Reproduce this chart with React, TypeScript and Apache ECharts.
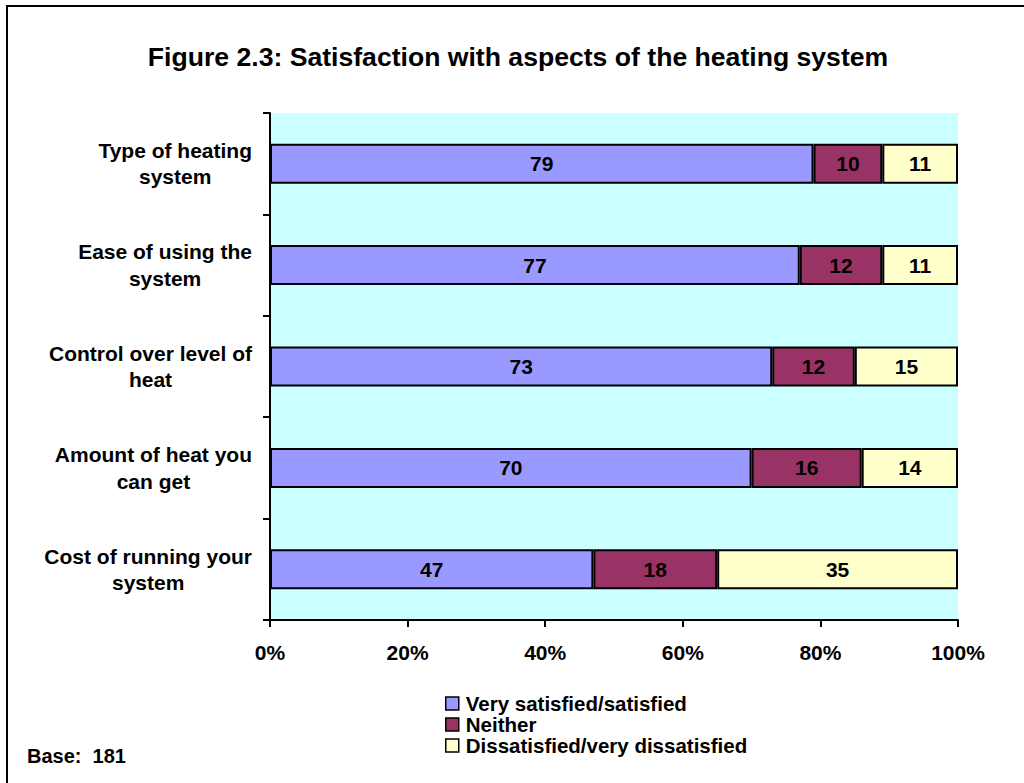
import React, { useEffect, useRef } from "react";
import * as echarts from "echarts";

const categories: string[] = [
  "Type of heating\nsystem",
  "Ease of using the\nsystem",
  "Control over level of\nheat",
  "Amount of heat you\ncan get",
  "Cost of running your\nsystem",
];
const seriesNames: string[] = [
  "Very satisfied/satisfied",
  "Neither",
  "Dissatisfied/very dissatisfied",
];
const verySatisfied: number[] = [79, 77, 73, 70, 47];
const neither: number[] = [10, 12, 12, 16, 18];
const dissatisfied: number[] = [11, 11, 15, 14, 35];
const colors: string[] = ["#9999FF", "#993366", "#FFFFCC"];
const titleText = "Figure 2.3: Satisfaction with aspects of the heating system";
const baseText = "Base:  181";

const FONT = "'Liberation Sans', Arial, Helvetica, sans-serif";

export default function App() {
  const ref = useRef<HTMLDivElement>(null);
  useEffect(() => {
    if (!ref.current) return;
    const chart = echarts.init(ref.current, undefined, { renderer: "svg" });
    const values = [verySatisfied, neither, dissatisfied];
    chart.setOption({
      animation: false,
      backgroundColor: "#ffffff",
      title: {
        text: titleText,
        left: 518,
        textAlign: "center",
        top: 43,
        padding: 0,
        textStyle: { fontFamily: FONT, fontWeight: "bold", fontSize: 26.6, color: "#000" },
      },
      legend: {
        orient: "vertical",
        left: 445,
        top: 693,
        padding: 0,
        itemGap: 0,
        itemWidth: 13,
        itemHeight: 13,
        icon: "rect",
        data: seriesNames,
        itemStyle: { borderColor: "#000", borderWidth: 1.5 },
        textStyle: {
          fontFamily: FONT,
          fontWeight: "bold",
          fontSize: 20.5,
          color: "#000",
          lineHeight: 20,
          padding: [0, 0, 0, 2],
        },
      },
      graphic: [
        {
          type: "rect",
          shape: { x: 7, y: 6, width: 1200, height: 1000 },
          style: { fill: "none", stroke: "#000", lineWidth: 2 },
          silent: true,
        },
        {
          type: "text",
          left: 27,
          top: 746,
          style: {
            text: baseText,
            fontFamily: FONT,
            fontWeight: "bold",
            fontSize: 20,
            fill: "#000",
          },
        },
      ],
      grid: {
        left: 270,
        right: 66,
        top: 113,
        bottom: 163,
        show: true,
        backgroundColor: "#CCFFFF",
        borderWidth: 0,
        containLabel: false,
      },
      xAxis: {
        type: "value",
        min: 0,
        max: 100,
        interval: 20,
        splitLine: { show: false },
        axisLine: { show: true, lineStyle: { color: "#000", width: 2 } },
        axisTick: { show: true, length: 7, lineStyle: { color: "#000", width: 2 } },
        axisLabel: {
          formatter: "{value}%",
          margin: 22,
          fontFamily: FONT,
          fontWeight: "bold",
          fontSize: 21,
          color: "#000",
        },
      },
      yAxis: {
        type: "category",
        inverse: true,
        data: categories,
        axisLine: { show: true, lineStyle: { color: "#000", width: 2 } },
        axisTick: { show: true, length: 7, lineStyle: { color: "#000", width: 2 } },
        axisLabel: {
          margin: 18,
          formatter: (v: string) =>
            v
              .split("\n")
              .map((l) => "{l|" + l + "}")
              .join("\n"),
          rich: {
            l: {
              align: "center",
              fontFamily: FONT,
              fontWeight: "bold",
              fontSize: 21,
              lineHeight: 26.5,
              color: "#000",
            },
          },
        },
      },
      series: seriesNames.map((name, i) => ({
        name,
        type: "bar",
        stack: "total",
        barWidth: 40,
        data: values[i],
        itemStyle: { color: colors[i], borderColor: "#000", borderWidth: 2 },
        label: {
          show: true,
          position: "inside",
          fontFamily: FONT,
          fontWeight: "bold",
          fontSize: 21,
          color: "#000",
        },
      })),
    });
    return () => chart.dispose();
  }, []);
  return (
    <div
      ref={ref}
      style={{ position: "absolute", left: 0, top: 0, width: 1024, height: 783 }}
    />
  );
}
